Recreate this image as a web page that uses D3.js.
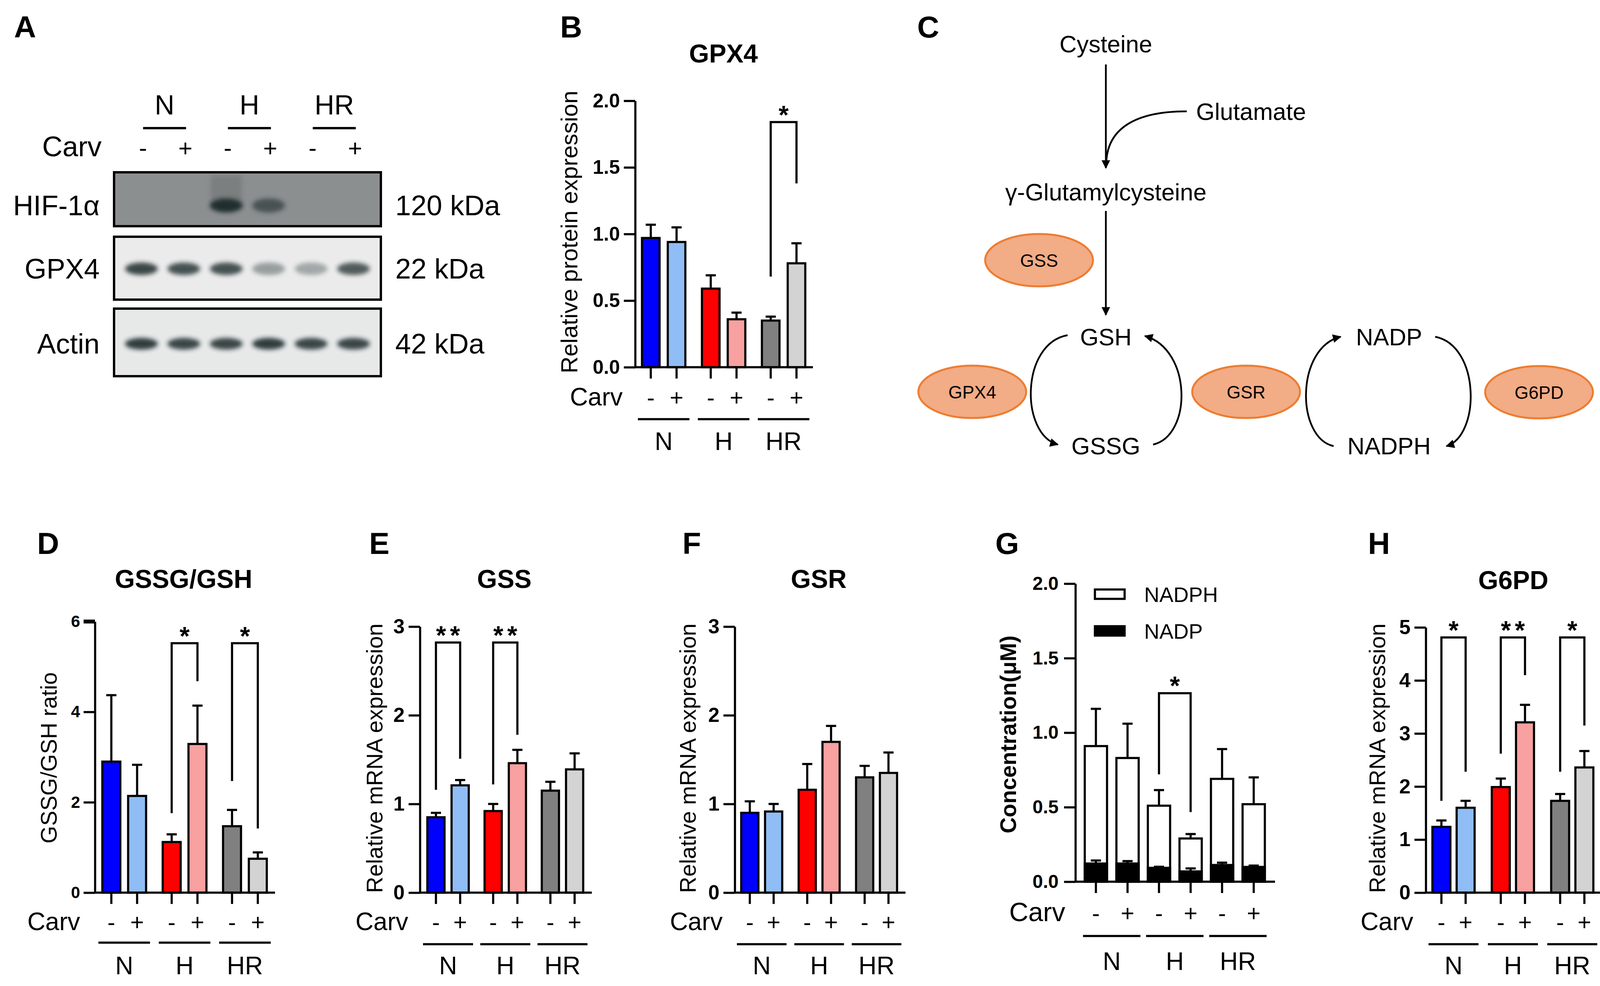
<!DOCTYPE html>
<html>
<head>
<meta charset="utf-8">
<script src="https://cdn.jsdelivr.net/npm/d3@7"></script>
<style>
  body { margin: 0; background: #fff; }
  svg text { font-family: "Liberation Sans", Arial, sans-serif; fill: #000; }
</style>
</head>
<body>
<svg id="fig" width="4140" height="2524" viewBox="0 0 4140 2524"></svg>
<script>
// ---- data ----
var groups = ["N", "H", "HR"];
var carv = ["-", "+"];
var barColors = ["#0000ff", "#90bdf5", "#ff0000", "#f9a0a0", "#808080", "#d3d3d3"];

// A: western blot lanes + band intensities (0..1)
var lanes = ["N-", "N+", "H-", "H+", "HR-", "HR+"];
var blotRows = ["HIF-1α", "GPX4", "Actin"];
var blotKda = ["120 kDa", "22 kDa", "42 kDa"];
var hifBand = [0, 0, 0.95, 0.6, 0, 0];
var gpx4Band = [0.85, 0.8, 0.8, 0.4, 0.35, 0.75];
var actinBand = [0.9, 0.85, 0.85, 0.9, 0.85, 0.85];

// B: GPX4 protein
var gpx4Protein = [0.97, 0.94, 0.59, 0.36, 0.35, 0.78];
var gpx4ProteinErr = [0.10, 0.11, 0.10, 0.05, 0.03, 0.15];
// D: GSSG/GSH ratio
var ratioVals = [2.90, 2.14, 1.12, 3.29, 1.47, 0.75];
var ratioErr = [1.47, 0.69, 0.17, 0.85, 0.36, 0.14];
// E: GSS mRNA
var gssVals = [0.85, 1.21, 0.92, 1.46, 1.15, 1.39];
var gssErr = [0.05, 0.06, 0.08, 0.15, 0.10, 0.18];
// F: GSR mRNA
var gsrVals = [0.90, 0.915, 1.16, 1.70, 1.30, 1.35];
var gsrErr = [0.13, 0.085, 0.29, 0.18, 0.13, 0.23];
// G: NADPH / NADP concentration
var nadphVals = [0.91, 0.83, 0.51, 0.29, 0.69, 0.52];
var nadphErr = [0.25, 0.23, 0.105, 0.03, 0.20, 0.18];
var nadpVals = [0.122, 0.122, 0.093, 0.069, 0.112, 0.099];
var nadpErr = [0.02, 0.016, 0.007, 0.02, 0.016, 0.009];
// H: G6PD mRNA
var g6pdVals = [1.24, 1.60, 1.99, 3.21, 1.73, 2.36];
var g6pdErr = [0.12, 0.13, 0.16, 0.33, 0.13, 0.31];

// significance brackets: bar a, bar b, leg ends, top, label
var sigB = [{a: 4, b: 5, ya: 0.68, yb: 1.38, top: 1.84, label: "*"}];
var sigD = [{a: 2, b: 3, ya: 1.76, yb: 4.68, top: 5.52, label: "*"},
            {a: 4, b: 5, ya: 2.47, yb: 1.42, top: 5.52, label: "*"}];
var sigE = [{a: 0, b: 1, ya: 1.16, yb: 1.51, top: 2.82, label: "**"},
            {a: 2, b: 3, ya: 1.22, yb: 1.78, top: 2.82, label: "**"}];
var sigG = [{a: 2, b: 3, ya: 0.72, yb: 0.467, top: 1.265, label: "*"}];
var sigH = [{a: 0, b: 1, ya: 1.73, yb: 2.28, top: 4.81, label: "*"},
            {a: 2, b: 3, ya: 2.62, yb: 4.10, top: 4.81, label: "**"},
            {a: 4, b: 5, ya: 2.28, yb: 3.15, top: 4.81, label: "*"}];

var svg = d3.select("#fig");
var SW = 5.5;

// arrow marker for the pathway, blur for blot bands
var defs = svg.append("defs");
defs.append("marker").attr("id", "arr")
  .attr("markerUnits", "userSpaceOnUse")
  .attr("viewBox", "0 0 10 10").attr("refX", 9).attr("refY", 5)
  .attr("markerWidth", 26).attr("markerHeight", 22).attr("orient", "auto")
  .append("path").attr("d", "M0,0 L10,5 L0,10 Z").attr("fill", "#000");
defs.append("filter").attr("id", "blur").attr("x", "-50%").attr("y", "-100%")
  .attr("width", "200%").attr("height", "300%")
  .append("feGaussianBlur").attr("stdDeviation", 6);

/* panel letters */
var letters = [["A", 36, 96], ["B", 1434, 96], ["C", 2348, 96],
               ["D", 95, 1418], ["E", 945, 1418], ["F", 1747, 1418],
               ["G", 2548, 1418], ["H", 3502, 1418]];
svg.selectAll("text.letter").data(letters).enter().append("text")
  .attr("class", "letter")
  .attr("x", d => d[1]).attr("y", d => d[2])
  .attr("font-size", 78).attr("font-weight", "bold")
  .text(d => d[0]);

/* ---------- A: western blot ---------- */
(function() {
  var g = svg.append("g");
  var lx = d3.scalePoint().domain(lanes).range([362, 905]);
  var boxes = [{top: 441, h: 138, fill: "#8c8f90", band: hifBand, by: 526, ry: 18},
               {top: 606, h: 161, fill: "#ebebeb", band: gpx4Band, by: 688, ry: 16},
               {top: 790, h: 173, fill: "#e7e8e8", band: actinBand, by: 880, ry: 15}];
  boxes.forEach(function(b, r) {
    g.append("rect").attr("x", 292).attr("y", b.top).attr("width", 683).attr("height", b.h)
      .attr("fill", b.fill).attr("stroke", "#000").attr("stroke-width", 6);
    if (r === 0) {
      // smear over hypoxia lane
      g.append("rect").attr("x", lx("H-") - 40).attr("y", b.top + 8).attr("width", 80)
        .attr("height", 80).attr("fill", "#6e7272").attr("opacity", 0.55).attr("filter", "url(#blur)");
    }
    g.selectAll(null).data(b.band).enter().append("ellipse")
      .attr("cx", (d, i) => lx(lanes[i]))
      .attr("cy", b.by)
      .attr("rx", 42).attr("ry", b.ry)
      .attr("fill", "#1f2b2b")
      .attr("opacity", d => d)
      .attr("filter", "url(#blur)");
    g.append("text").attr("x", 255).attr("y", b.by + 25)
      .attr("text-anchor", "end").attr("font-size", 72).text(blotRows[r]);
    g.append("text").attr("x", 1012).attr("y", b.by + 25)
      .attr("font-size", 72).text(blotKda[r]);
  });
  groups.forEach(function(gr, k) {
    var c = (lx(lanes[2 * k]) + lx(lanes[2 * k + 1])) / 2 + 5;
    g.append("text").attr("x", c).attr("y", 293).attr("text-anchor", "middle")
      .attr("font-size", 70).text(gr);
    g.append("line").attr("x1", c - 55).attr("x2", c + 55).attr("y1", 328).attr("y2", 328)
      .attr("stroke", "#000").attr("stroke-width", 6);
  });
  g.append("text").attr("x", 260).attr("y", 400).attr("text-anchor", "end")
    .attr("font-size", 72).text("Carv");
  g.selectAll(null).data(lanes).enter().append("text")
    .attr("x", d => lx(d) + 4).attr("y", 400).attr("text-anchor", "middle")
    .attr("font-size", 62).text(d => d.slice(-1));
})();

/* ---------- generic bar panel ---------- */
function barPanel(cfg) {
  var g = svg.append("g");
  var y = d3.scaleLinear().domain([0, cfg.max]).range([cfg.zero, cfg.top]);
  var gx = d3.scalePoint().domain(groups).range(cfg.groupRange);
  var ix = d3.scalePoint().domain(carv).range([-cfg.inner, cfg.inner]);
  var idx = d3.range(6);
  var xc = i => gx(groups[Math.floor(i / 2)]) + ix(carv[i % 2]);

  cfg.series.forEach(function(s) {
    // error bars (upper only)
    g.selectAll(null).data(idx).enter().append("path")
      .attr("d", i => "M" + xc(i) + "," + y(s.vals[i]) + "V" + y(s.vals[i] + s.err[i]) +
                      "M" + (xc(i) - 13) + "," + y(s.vals[i] + s.err[i]) + "H" + (xc(i) + 13))
      .attr("stroke", "#000").attr("stroke-width", SW).attr("fill", "none");
    g.selectAll(null).data(idx).enter().append("rect")
      .attr("x", i => xc(i) - cfg.bw / 2)
      .attr("y", i => y(s.vals[i]))
      .attr("width", cfg.bw)
      .attr("height", i => cfg.zero - y(s.vals[i]))
      .attr("fill", (i) => s.fill ? s.fill : barColors[i])
      .attr("stroke", "#000").attr("stroke-width", SW);
  });

  // y axis
  var ax = g.append("g").attr("transform", "translate(" + cfg.axisX + ",0)")
    .call(d3.axisLeft(y).tickValues(cfg.ticks).tickFormat(cfg.fmt)
      .tickSize(29).tickSizeOuter(0).tickPadding(cfg.tickPad || 10));
  ax.select(".domain").attr("stroke-width", SW);
  ax.selectAll(".tick line").attr("stroke-width", SW);
  ax.selectAll(".tick text").attr("font-size", cfg.tickFont).attr("font-weight", "bold")
    .attr("font-family", "Liberation Sans, Arial, sans-serif").attr("fill", "#000");
  if (cfg.thickTop) {
    ax.append("line").attr("x1", -29).attr("x2", 0).attr("y1", y(cfg.max)).attr("y2", y(cfg.max))
      .attr("stroke", "#000").attr("stroke-width", 10);
  }

  // x axis line + ticks
  g.append("line").attr("x1", cfg.axisX).attr("x2", cfg.xRight)
    .attr("y1", cfg.zero).attr("y2", cfg.zero)
    .attr("stroke", "#000").attr("stroke-width", SW);
  g.selectAll(null).data(idx).enter().append("line")
    .attr("x1", xc).attr("x2", xc).attr("y1", cfg.zero).attr("y2", cfg.zero + 29)
    .attr("stroke", "#000").attr("stroke-width", SW);

  // significance brackets
  (cfg.sig || []).forEach(function(s) {
    g.append("path")
      .attr("d", "M" + xc(s.a) + "," + y(s.ya) + "V" + y(s.top) + "H" + xc(s.b) + "V" + y(s.yb))
      .attr("fill", "none").attr("stroke", "#000").attr("stroke-width", SW);
    g.append("text").attr("x", (xc(s.a) + xc(s.b)) / 2 + (s.label.length > 1 ? 5 : 0))
      .attr("y", y(s.top) + 4)
      .attr("text-anchor", "middle").attr("font-size", 66).attr("font-weight", "bold")
      .attr("letter-spacing", s.label.length > 1 ? 10 : 0)
      .text(s.label);
  });

  // Carv row and group labels
  g.append("text").attr("x", cfg.carvX).attr("y", cfg.zero + cfg.carvDy)
    .attr("text-anchor", "end").attr("font-size", cfg.carvFont || 64).text("Carv");
  g.selectAll(null).data(idx).enter().append("text")
    .attr("x", xc).attr("y", cfg.zero + cfg.carvDy).attr("text-anchor", "middle")
    .attr("font-size", 60).text(i => carv[i % 2]);
  groups.forEach(function(gr) {
    var c = gx(gr);
    g.append("line").attr("x1", c - cfg.inner - 33).attr("x2", c + cfg.inner + 33)
      .attr("y1", cfg.zero + cfg.lineDy).attr("y2", cfg.zero + cfg.lineDy)
      .attr("stroke", "#000").attr("stroke-width", SW);
    g.append("text").attr("x", c).attr("y", cfg.zero + cfg.labDy).attr("text-anchor", "middle")
      .attr("font-size", 64).text(gr);
  });

  // y label and title
  g.append("text")
    .attr("transform", "translate(" + cfg.ylabX + "," + cfg.ylabY + ") rotate(-90)")
    .attr("dy", "0.36em").attr("text-anchor", "middle")
    .attr("font-size", cfg.ylabFont || 58).attr("font-weight", cfg.ylabBold ? "bold" : "normal")
    .text(cfg.ylab);
  if (cfg.title) {
    g.append("text").attr("x", cfg.titleX).attr("y", cfg.titleY).attr("text-anchor", "middle")
      .attr("font-size", 66).attr("font-weight", "bold").text(cfg.title);
  }
  return {g: g, y: y};
}

var f1 = d3.format(".1f");

// B
barPanel({series: [{vals: gpx4Protein, err: gpx4ProteinErr}], sig: sigB,
  max: 2, zero: 940, top: 258, ticks: [0, 0.5, 1, 1.5, 2], fmt: f1, tickFont: 50,
  groupRange: [1699, 2006], inner: 33, bw: 45, axisX: 1626, xRight: 2081,
  carvX: 1594, carvDy: 98, lineDy: 133, labDy: 212,
  ylab: "Relative protein expression", ylabX: 1456, ylabY: 594, ylabFont: 60,
  title: "GPX4", titleX: 1852, titleY: 160});

// D
barPanel({series: [{vals: ratioVals, err: ratioErr}], sig: sigD, thickTop: true,
  max: 6, zero: 2285, top: 1591, ticks: [0, 2, 4, 6], fmt: d3.format("d"), tickFont: 42, tickPad: 9,
  groupRange: [318, 627], inner: 33, bw: 46, axisX: 243, xRight: 704,
  carvX: 205, carvDy: 96, lineDy: 128, labDy: 209,
  ylab: "GSSG/GSH ratio", ylabX: 124, ylabY: 1940, ylabFont: 58,
  title: "GSSG/GSH", titleX: 470, titleY: 1505});

// E
barPanel({series: [{vals: gssVals, err: gssErr}], sig: sigE,
  max: 3, zero: 2285, top: 1604, ticks: [0, 1, 2, 3], fmt: d3.format("d"), tickFont: 52,
  groupRange: [1147, 1440], inner: 31, bw: 44, axisX: 1075, xRight: 1515,
  carvX: 1045, carvDy: 96, lineDy: 132, labDy: 209,
  ylab: "Relative mRNA expression", ylabX: 958, ylabY: 1941,
  title: "GSS", titleX: 1291, titleY: 1505});

// F
barPanel({series: [{vals: gsrVals, err: gsrErr}],
  max: 3, zero: 2285, top: 1604, ticks: [0, 1, 2, 3], fmt: d3.format("d"), tickFont: 52,
  groupRange: [1950, 2244], inner: 30.5, bw: 44, axisX: 1881, xRight: 2318,
  carvX: 1850, carvDy: 96, lineDy: 132, labDy: 209,
  ylab: "Relative mRNA expression", ylabX: 1760, ylabY: 1941,
  title: "GSR", titleX: 2096, titleY: 1505});

// G
var pg = barPanel({series: [{vals: nadphVals, err: nadphErr, fill: "#fff"},
                            {vals: nadpVals, err: nadpErr, fill: "#000"}], sig: sigG,
  max: 2, zero: 2257, top: 1494, ticks: [0, 0.5, 1, 1.5, 2], fmt: f1, tickFont: 48, tickPad: 14,
  groupRange: [2846, 3169], inner: 40.5, bw: 57, axisX: 2753, xRight: 3264,
  carvX: 2727, carvDy: 101, carvFont: 68, lineDy: 139, labDy: 226,
  ylab: "Concentration(μM)", ylabX: 2580, ylabY: 1880, ylabFont: 57, ylabBold: true});
var legend = [{name: "NADPH", fill: "#fff"}, {name: "NADP", fill: "#000"}];
pg.g.selectAll(null).data(legend).enter().append("rect")
  .attr("x", 2803).attr("y", (d, i) => 1509 + i * 94).attr("width", 76).attr("height", 24)
  .attr("fill", d => d.fill).attr("stroke", "#000").attr("stroke-width", SW);
pg.g.selectAll(null).data(legend).enter().append("text")
  .attr("x", 2929).attr("y", (d, i) => 1541 + i * 94).attr("font-size", 54).text(d => d.name);

// H
barPanel({series: [{vals: g6pdVals, err: g6pdErr}], sig: sigH,
  max: 5, zero: 2285, top: 1606, ticks: [0, 1, 2, 3, 4, 5], fmt: d3.format("d"), tickFont: 52,
  groupRange: [3721, 4025], inner: 31, bw: 46, axisX: 3650, xRight: 4103,
  carvX: 3618, carvDy: 96, lineDy: 132, labDy: 209,
  ylab: "Relative mRNA expression", ylabX: 3525, ylabY: 1941,
  title: "G6PD", titleX: 3874, titleY: 1508});

/* ---------- C: glutathione pathway ---------- */
(function() {
  var g = svg.append("g");
  var F = 61;
  var nodes = [["Cysteine", 2831, 112, "middle"], ["Glutamate", 3062, 285, "start"],
               ["γ-Glutamylcysteine", 2831, 491, "middle"], ["GSH", 2831, 862, "middle"],
               ["GSSG", 2831, 1141, "middle"], ["NADP", 3556, 862, "middle"],
               ["NADPH", 3556, 1141, "middle"]];
  g.selectAll(null).data(nodes).enter().append("text")
    .attr("x", d => d[1]).attr("y", d => d[2] + 0.36 * F)
    .attr("text-anchor", d => d[3]).attr("font-size", F).text(d => d[0]);

  var enzymes = [["GSS", 2660, 666], ["GPX4", 2489, 1003], ["GSR", 3190, 1003], ["G6PD", 3940, 1004]];
  g.selectAll(null).data(enzymes).enter().append("ellipse")
    .attr("cx", d => d[1]).attr("cy", d => d[2]).attr("rx", 138).attr("ry", 67)
    .attr("fill", "#f2ac86").attr("stroke", "#ed7d31").attr("stroke-width", 5);
  g.selectAll(null).data(enzymes).enter().append("text")
    .attr("x", d => d[1]).attr("y", d => d[2] + 17).attr("text-anchor", "middle")
    .attr("font-size", 46).text(d => d[0]);

  var paths = ["M2831,165 V430",
               "M3038,285 C2905,285 2833,330 2832,420",
               "M2831,540 V806",
               "M2733,858 C2612,880 2612,1112 2708,1138",
               "M2952,1138 C3052,1115 3052,895 2931,860",
               "M3414,1142 C3317,1120 3317,890 3432,862",
               "M3674,862 C3790,885 3790,1115 3703,1142"];
  g.selectAll(null).data(paths).enter().append("path")
    .attr("d", d => d).attr("fill", "none").attr("stroke", "#000").attr("stroke-width", 4.5)
    .attr("marker-end", (d, i) => i === 1 ? null : "url(#arr)");
})();
</script>
</body>
</html>
